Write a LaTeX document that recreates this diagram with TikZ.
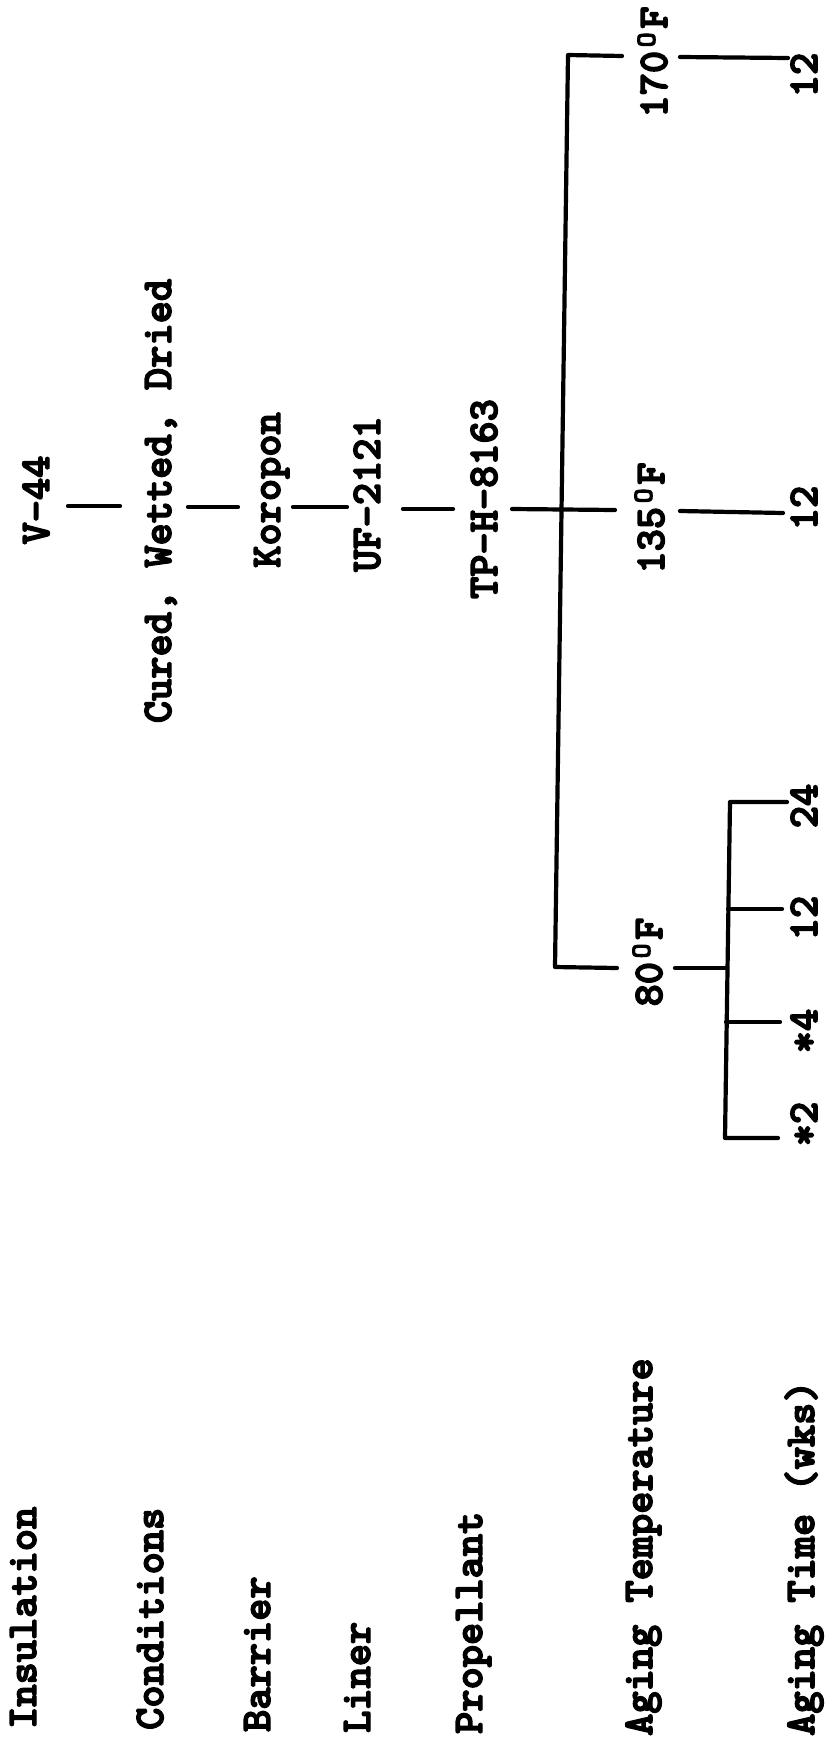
\documentclass[tikz,border=0pt]{standalone}
\usepackage{fontspec}
\newfontfamily\tw{lmmonolt10-bold.otf}[FakeBold=3.5]
\newcommand{\dgr}{\makebox[22.2pt]{\raisebox{12pt}{\fontsize{28}{28}\selectfont O}}}
\tikzset{
  lbl/.style={rotate=90, anchor=base west, inner sep=0pt, font=\tw\fontsize{42.3}{48}\selectfont},
  val/.style={rotate=90, anchor=base, inner sep=0pt, font=\tw\fontsize{42.3}{48}\selectfont},
  ln/.style={line width=4.2pt, line cap=round, line join=round}
}
\begin{document}
\begin{tikzpicture}[x=1pt,y=-1pt]
\useasboundingbox (0,0) rectangle (832,1745);
\fill[white] (0,0) rectangle (832,1745);
% row labels
\node[lbl] (lIns) at (36,1729) {Insulation};
\node[lbl] (lCon) at (163,1730) {Conditions};
\node[lbl] (lBar) at (270,1732) {Barrier};
\node[lbl] (lLin) at (370,1733) {Liner};
\node[lbl] (lPro) at (482,1734) {Propellant};
\node[lbl] (lTmp) at (652,1736) {Aging Temperature};
\node[lbl] (lTim) at (814,1736) {Aging Time (wks)};
% values
\node[val] (vIns) at (49,500) {V-44};
\node[val] (vCon) at (171,501) {Cured, Wetted, Dried};
\node[val] (vBar) at (280,490) {Koropon};
\node[val] (vLin) at (380,494) {UF-2121};
\node[val] (vPro) at (497,499) {TP-H-8163};
\node[val] (t170) at (667,62) {170\dgr F};
\node[val] (t135) at (664,518) {135\dgr F};
\node[val] (t80) at (662,962) {80\dgr F};
\node[val] (w170) at (817,75) {12};
\node[val] (w135) at (817,508) {12};
\node[val] (w24) at (817,806) {24};
\node[val] (w12) at (817,918) {12};
\node[val] (w4) at (817,1031) {*4};
\node[val] (w2) at (817,1124) {*2};
% connector end points
\coordinate (a1) at (68,506);  \coordinate (a2) at (120,506);
\coordinate (b1) at (188,507); \coordinate (b2) at (238,507);
\coordinate (c1) at (293,507); \coordinate (c2) at (347,507);
\coordinate (d1) at (403,509); \coordinate (d2) at (453,509);
\coordinate (e1) at (512,509); \coordinate (e2) at (615,510);
\coordinate (f1) at (680,511); \coordinate (f2) at (783,513);
\coordinate (top) at (568,55); \coordinate (topR) at (622,56);
\coordinate (bot) at (555,967); \coordinate (botR) at (617,968);
\coordinate (g1) at (680,57); \coordinate (g2) at (788,58);
\coordinate (h1) at (675,968); \coordinate (h2) at (727,968);
\coordinate (k24) at (730,802); \coordinate (k2) at (725,1138);
\coordinate (k12) at (728,909); \coordinate (k4) at (726,1022);
% connectors
\draw[ln] (a1) -- (a2);
\draw[ln] (b1) -- (b2);
\draw[ln] (c1) -- (c2);
\draw[ln] (d1) -- (d2);
\draw[ln] (e1) -- (e2);
\draw[ln] (f1) -- (f2);
\draw[ln] (topR) -- (top) -- (bot) -- (botR);
\draw[ln] (g1) -- (g2);
\draw[ln] (h1) -- (h2);
\draw[ln] (787,802) -- (k24) -- (k2) -- (778,1138);
\draw[ln] (k12) -- (782,909);
\draw[ln] (k4) -- (780,1022);
\end{tikzpicture}
\end{document}
